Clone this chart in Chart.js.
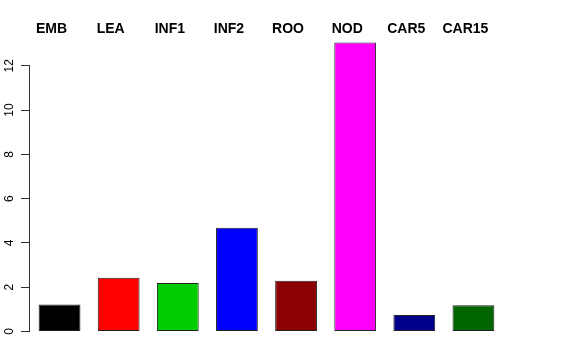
<!DOCTYPE html>
<html>
  <head>
    <title>Barplot</title>
    <script src="https://cdn.jsdelivr.net/npm/chart.js"></script>
    <style>
      body { margin: 0; background: #fff; }
    </style>
  </head>
  <body>
    <canvas id="grafico" width="576" height="360"></canvas>

<script>
  // dados
  const categorias = ["EMB", "LEA", "INF1", "INF2", "ROO", "NOD", "CAR5", "CAR15"];
  const valores = [1.22, 2.43, 2.19, 4.69, 2.29, 13.05, 0.74, 1.19];
  const cores = ["#000000", "#ff0000", "#00cd00", "#0000ff", "#8b0000", "#ff00ff", "#00008b", "#006400"];
  const ticksY = [0, 2, 4, 6, 8, 10, 12];

  // rótulos em cima das barras, rótulos do eixo y girados e linha do eixo só de 0 a 12 (como no R)
  const extras = {
    id: "extras",
    afterDraw(chart) {
      const ctx = chart.ctx;
      const x = chart.scales.x;
      const y = chart.scales.y;
      ctx.save();
      ctx.font = "bold 14px 'Liberation Sans', Arial, sans-serif";
      ctx.fillStyle = "#000";
      ctx.textAlign = "center";
      ctx.textBaseline = "middle";
      for (let i = 0; i < categorias.length; i++) {
        ctx.fillText(categorias[i], x.getPixelForValue(i) - 8, 29);
      }

      ctx.font = "12px 'Liberation Sans', Arial, sans-serif";
      ctx.textBaseline = "alphabetic";
      for (const v of ticksY) {
        ctx.save();
        ctx.translate(13, y.getPixelForValue(v));
        ctx.rotate(-Math.PI / 2);
        ctx.fillText(String(v), 0, 0);
        ctx.restore();
      }

      ctx.strokeStyle = "#333";
      ctx.lineWidth = 1;
      ctx.beginPath();
      ctx.moveTo(29.5, y.getPixelForValue(ticksY[0]));
      ctx.lineTo(29.5, y.getPixelForValue(ticksY[ticksY.length - 1]));
      ctx.stroke();
      ctx.restore();
    }
  };

  const config = {
    type: "bar",
    data: {
      labels: categorias,
      datasets: [
        {
          data: valores,
          backgroundColor: cores,
          borderColor: "#222",
          borderWidth: 1,
          borderSkipped: false,
          barPercentage: 0.707,
          categoryPercentage: 1,
        },
      ],
    },
    options: {
      responsive: false,
      animation: false,
      layout: { padding: { top: 31, bottom: 17, left: 0, right: 73 } },
      plugins: { legend: { display: false }, tooltip: { enabled: false } },
      scales: {
        x: { display: false },
        y: {
          min: -0.52,
          max: 13.57,
          afterFit(scale) { scale.width = 30; },
          afterBuildTicks(scale) { scale.ticks = ticksY.map(v => ({ value: v })); },
          border: { display: false },
          grid: { drawOnChartArea: false, drawTicks: true, tickLength: 9, color: "#333" },
          ticks: { display: false },
        },
      },
    },
    plugins: [extras],
  };

  let myChart = new Chart(document.getElementById("grafico"), config);
</script>
  </body>
</html>
